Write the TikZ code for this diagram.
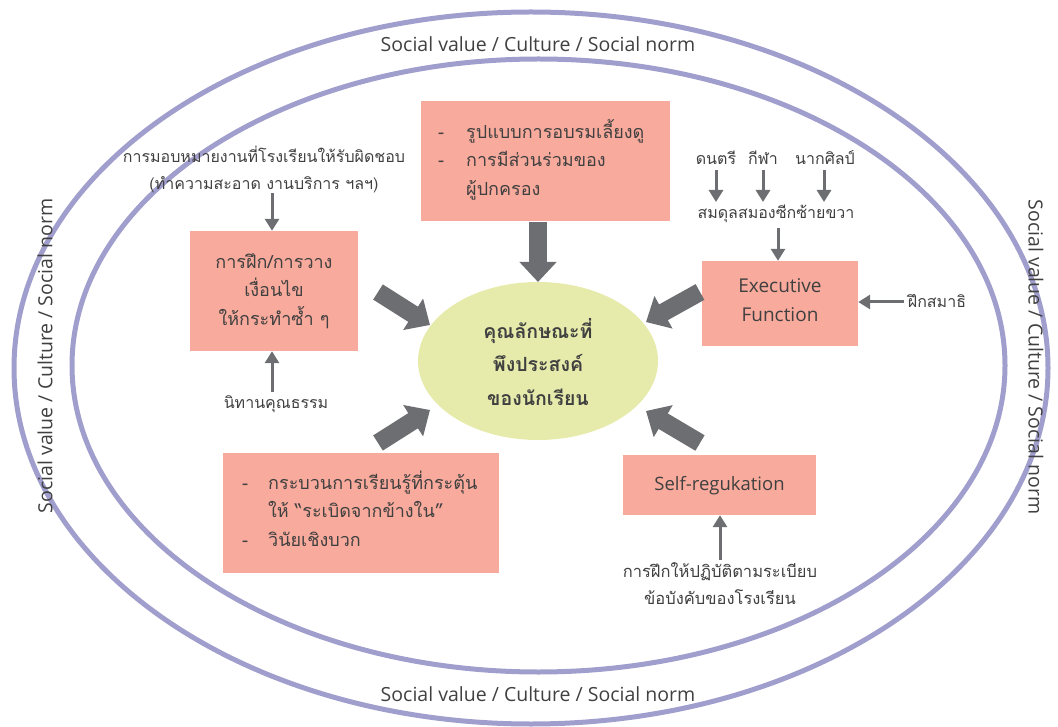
\documentclass[tikz,border=0pt]{standalone}
\usepackage{fontspec}
\setmainfont{Open Sans}
\newfontfamily\thai[Script=Thai]{Loma}
\usetikzlibrary{arrows.meta,shapes.geometric}
\definecolor{ring}{RGB}{160,158,204}
\definecolor{boxfill}{RGB}{248,170,156}
\definecolor{ctrfill}{RGB}{230,235,171}
\definecolor{arr}{RGB}{109,110,113}
\definecolor{txt}{RGB}{64,64,64}
\tikzset{
  ringline/.style={draw=ring, line width=5pt},
  boxnode/.style={rectangle, fill=boxfill, draw=none, inner sep=0pt},
  lbl/.style={text=txt, inner sep=0pt, font=\thai\fontsize{16}{27}\selectfont, align=center},
  boxlbl/.style={text=txt, inner sep=0pt, font=\thai\fontsize{18}{28.5}\selectfont, align=center},
  latlbl/.style={text=txt, inner sep=0pt, font=\fontsize{19.5}{28}\selectfont, align=center},
  bigarrow/.style={draw=arr, line width=18pt, -{Triangle[length=20pt,width=36pt]}},
  thinarrow/.style={draw=arr, line width=3pt, -{Triangle[length=12pt,width=14pt]}},
}
\begin{document}
\begin{tikzpicture}[x=1pt,y=-1pt]
\useasboundingbox (0,0) rectangle (1058,727);
% rings
\draw[ringline] (531,368) ellipse [x radius=517, y radius=356];
\draw[ringline] (538.5,365.5) ellipse [x radius=466.5, y radius=306.5];
\node[latlbl] (svtop) at (538,44) {Social value / Culture / Social norm};
\node[latlbl] (svbot) at (538,694) {Social value / Culture / Social norm};
\node[latlbl, rotate=90] (svleft) at (45,356) {Social value / Culture / Social norm};
\node[latlbl, rotate=-90] (svright) at (1036,357) {Social value / Culture / Social norm};
% centre
\node[ellipse, fill=ctrfill, minimum width=240pt, minimum height=158pt, inner sep=0pt] (ctr) at (538,361) {};
\node[lbl, font=\thai\bfseries\fontsize{19.5}{33.5}\selectfont] (ctrtext) at (538,362) {คุณลักษณะที่\\พึงประสงค์\\ของนักเรียน};
% boxes
\node[boxnode, minimum width=168pt, minimum height=120pt] (box1) at (274,291) {};
\node[boxlbl] (box1text) at (274,291) {การฝึก/การวาง\\เงื่อนไข\\ให้กระทำซ้ำ ๆ};
\node[boxnode, minimum width=249pt, minimum height=120pt] (boxtop) at (545.5,161) {};
\node[boxlbl, anchor=west, align=left] (boxtoptext) at (438,161) {%
  \begin{tabular}{@{}p{28pt}@{}l@{}}
  - & รูปแบบการอบรมเลี้ยงดู\\
  - & การมีส่วนร่วมของ\\
    & ผู้ปกครอง
  \end{tabular}};
\node[boxnode, minimum width=156pt, minimum height=85pt] (boxexec) at (780,303.5) {};
\node[latlbl, font=\fontsize{19}{29}\selectfont] (exectext) at (780,300) {Executive\\Function};
\node[boxnode, minimum width=276pt, minimum height=120pt] (boxbl) at (361,513) {};
\node[boxlbl, anchor=west, align=left] (boxbltext) at (242,512) {%
  \begin{tabular}{@{}p{26pt}@{}l@{}}
  - & กระบวนการเรียนรู้ที่กระตุ้น\\
    & ให้ “ระเบิดจากข้างใน”\\
  - & วินัยเชิงบวก
  \end{tabular}};
\node[boxnode, minimum width=193pt, minimum height=60pt] (boxsr) at (719.5,485) {};
\node[latlbl, font=\fontsize{18.5}{28}\selectfont] (srtext) at (719.5,486) {Self-regukation};
% outer labels
\node[lbl] (assign) at (264,169) {การมอบหมายงานที่โรงเรียนให้รับผิดชอบ\\(ทำความสะอาด งานบริการ ฯลฯ)};
\node[lbl] (tale) at (276,404) {นิทานคุณธรรม};
\node[lbl] (music) at (716,158) {ดนตรี};
\node[lbl] (sport) at (763,158) {กีฬา};
\node[lbl] (art) at (825,158) {นากศิลป์};
\node[lbl] (brain) at (776,214) {สมดุลสมองซีกซ้ายขวา};
\node[lbl] (medit) at (937,301) {ฝึกสมาธิ};
\node[lbl, font=\thai\fontsize{16.5}{27}\selectfont] (rules) at (720,584) {การฝึกให้ปฏิบัติตามระเบียบ\\ข้อบังคับของโรงเรียน};
% thin arrows
\coordinate (a1) at (272,193);
\draw[thinarrow] (a1) -- (a1 |- box1.north);
\coordinate (a2) at (272,392);
\draw[thinarrow] (a2) -- (a2 |- box1.south);
\coordinate (a3) at (716,170);
\coordinate (a3e) at (716,202);
\draw[thinarrow] (a3) -- (a3e);
\coordinate (a4) at (763,170);
\coordinate (a4e) at (763,202);
\draw[thinarrow] (a4) -- (a4e);
\coordinate (a5) at (824,170);
\coordinate (a5e) at (824,202);
\draw[thinarrow] (a5) -- (a5e);
\coordinate (a6) at (778,228);
\draw[thinarrow] (a6) -- (a6 |- boxexec.north);
\coordinate (a7) at (904,302);
\draw[thinarrow] (a7) -- (a7 -| boxexec.east);
\coordinate (a8) at (720,560);
\draw[thinarrow] (a8) -- (a8 |- boxsr.south);
% big arrows
\coordinate (bt) at (538,222);
\coordinate (btt) at (538,282);
\draw[bigarrow] (bt) -- (btt);
\coordinate (bul) at (378,292);
\coordinate (bult) at (430,325);
\draw[bigarrow] (bul) -- (bult);
\coordinate (bur) at (700,292);
\coordinate (burt) at (646,322);
\draw[bigarrow] (bur) -- (burt);
\coordinate (bll) at (378,443);
\coordinate (bllt) at (430,410);
\draw[bigarrow] (bll) -- (bllt);
\coordinate (blr) at (700,443);
\coordinate (blrt) at (646,411);
\draw[bigarrow] (blr) -- (blrt);
\end{tikzpicture}
\end{document}
